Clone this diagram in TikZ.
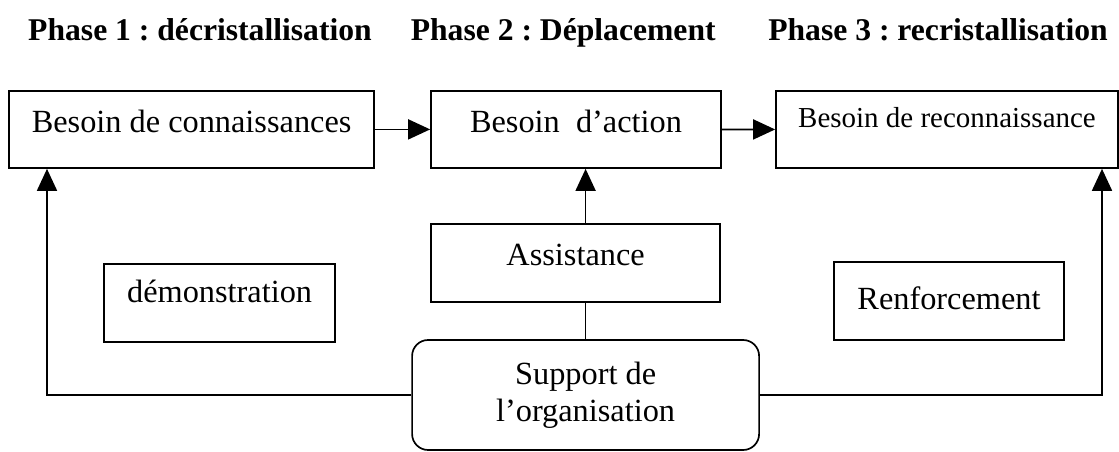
\documentclass[tikz,border=0pt]{standalone}
\usepackage{fontspec}
\setmainfont{Liberation Serif}
\usetikzlibrary{arrows.meta}
\frenchspacing
\begin{document}
\begin{tikzpicture}[line width=1.2pt,
    besoin/.style={draw, inner sep=0pt, anchor=base, text height=1.04cm, text depth=0.89cm,
        font=\fontsize{23}{27}\selectfont},
    moyen/.style={draw, inner sep=0pt, anchor=base, font=\fontsize{23}{27}\selectfont},
    phase/.style={anchor=base, font=\fontsize{22.5}{27}\selectfont\bfseries},
    fleche/.style={-{Triangle[length=0.55cm, width=0.5cm]}}]
                \useasboundingbox (0,0) rectangle (27.975,11.3);
                % titres des phases
                \node[phase] (p1) at (5.0,10.275) {Phase 1 : décristallisation};
                \node[phase] (p2) at (14.08,10.275) {Phase 2 : Déplacement};
                \node[phase] (p3) at (23.45,10.275) {Phase 3 : recristallisation};
                % besoins
                \node[besoin, minimum width=9.125cm] (b1) at (4.79,7.99) {Besoin de connaissances};
                \node[besoin, minimum width=7.25cm] (b2) at (14.4,7.99) {Besoin\ \ d’action};
                \node[besoin, minimum width=8.55cm, text height=0.925cm, text depth=1.0cm,
                    font=\fontsize{20.6}{25}\selectfont] (b3) at (23.675,8.1) {Besoin de reconnaissance};
                \draw[fleche] (b1) -- (b2);
                \draw[fleche] (b2) -- (b3);
                % moyens
                \node[moyen, minimum width=7.225cm, text height=1.05cm, text depth=0.9cm] (assist) at (14.39,4.65) {Assistance};
                \node[moyen, minimum width=5.775cm, text height=0.975cm, text depth=0.975cm] (demo) at (5.49,3.725) {démonstration};
                \node[moyen, minimum width=5.75cm, text height=1.2cm, text depth=0.75cm] (renf) at (23.725,3.55) {Renforcement};
                \node[draw, rounded corners=0.4cm, minimum width=8.675cm, minimum height=2.75cm, align=center,
                    font=\fontsize{23}{26.5}\selectfont] (support) at (14.64,1.425) {Support de\\l’organisation};
                \coordinate (gauche) at (1.175,0);
                \coordinate (droite) at (27.55,0);
                \draw (support.north) -- (support.north |- assist.south);
                \draw[fleche] (support.north |- assist.north) -- (support.north |- b2.south);
                \draw[fleche] (support.west) -| (gauche |- b1.south);
                \draw[fleche] (support.east) -| (droite |- b3.south);
            \end{tikzpicture}
\end{document}
